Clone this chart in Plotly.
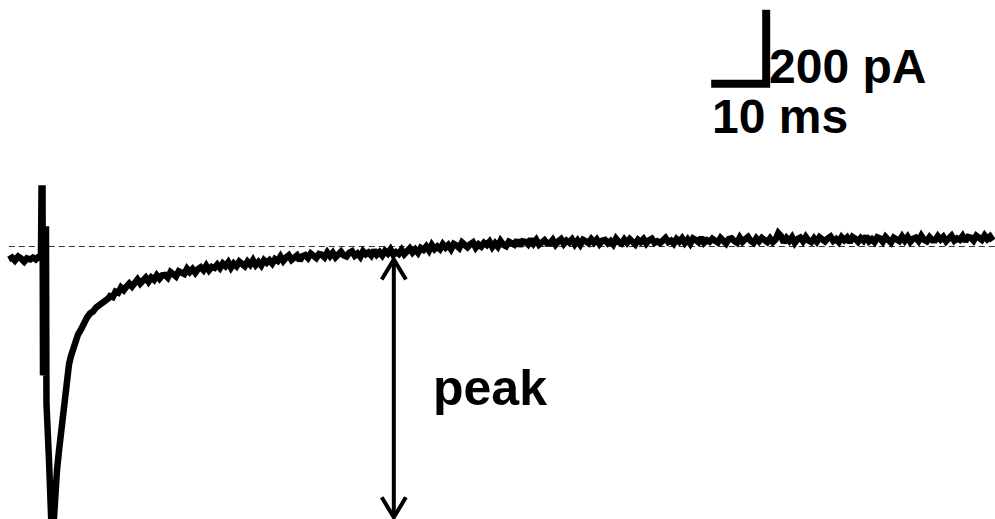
import numpy as np
import plotly.graph_objects as go

# --- Recorded synaptic current (pA) vs time (ms) ---------------------------
# Stimulus artifact and fast phase, irregularly sampled
stim_time_ms = [1.6, 2.2, 2.7, 3.3, 3.8, 4.4, 4.9, 5.5, 6.0, 6.5, 7.1, 7.45,
                7.55, 7.73, 7.82, 8.0, 8.09, 8.36, 8.45, 8.64, 8.91, 9.18,
                9.45, 9.73, 10.0, 10.36, 10.73, 11.09, 11.45, 11.82, 12.18,
                12.55, 12.91, 13.27, 13.64, 14.18, 14.73, 15.27, 15.82, 16.36,
                16.91, 17.45, 18.0, 18.55, 19.09, 19.64]
stim_current_pa = [-35, -30, -38, -27, -32, -41, -32, -35, -30, -35, -27, -22,
                   157, 157, -348, -335, 46, 46, -424, -470, -578, -686,
                   -794, -753, -672, -605, -551, -497, -456, -402, -345,
                   -318, -296, -277, -262, -238, -224, -204, -192, -181,
                   -176, -165, -160, -155, -147, -141]

# Slow tail, sampled every 0.5 ms from 20 ms
TAIL_START_MS = 20.0
TAIL_STEP_MS = 0.5
tail_current_pa = [
    -134, -137, -122, -125, -111, -118, -108, -100, -108, -96,
    -89, -100, -92, -84, -95, -84, -90, -78, -87, -78,
    -77, -84, -69, -77, -81, -67, -70, -74, -60, -69,
    -61, -71, -61, -56, -64, -52, -64, -55, -58, -49,
    -58, -46, -53, -43, -57, -46, -53, -41, -47, -53,
    -41, -49, -37, -50, -42, -51, -37, -44, -37, -46,
    -34, -39, -27, -39, -30, -24, -36, -32, -24, -38,
    -26, -23, -31, -19, -27, -31, -20, -22, -29, -16,
    -26, -17, -29, -20, -14, -24, -27, -17, -13, -25,
    -19, -28, -13, -21, -16, -24, -10, -22, -15, -24,
    -12, -19, -8, -22, -15, -20, -9, -21, -10, -5,
    -16, -8, -17, -4, -9, 0, -11, 4, -7, 0,
    -7, 6, -3, 4, -7, 7, 3, -4, 11, 1,
    -2, 6, 11, -3, 6, 0, 10, 4, 13, -1,
    9, 0, 15, 5, 1, 13, 10, 5, 17, 2,
    14, 13, 6, 20, 8, 18, 5, 13, 17, 8,
    9, 18, 5, 14, 20, 7, 16, 11, 19, 6,
    16, 5, 18, 14, 9, 20, 11, 19, 7, 16,
    18, 9, 15, 6, 21, 12, 8, 19, 10, 20,
    15, 6, 18, 12, 20, 8, 17, 21, 10, 14,
    9, 19, 23, 12, 16, 8, 20, 13, 22, 10,
    19, 8, 22, 18, 12, 24, 10, 17, 13, 21,
    18, 11, 23, 13, 8, 20, 22, 15, 10, 24,
    13, 20, 26, 15, 10, 22, 14, 23, 18, 12,
    22, 12, 19, 36, 28, 11, 23, 15, 25, 10,
    20, 24, 14, 26, 16, 12, 22, 13, 25, 19,
    14, 22, 27, 15, 20, 12, 25, 17, 24, 11,
    26, 21, 13, 23, 16, 28, 14, 20, 12, 25,
    22, 13, 26, 18, 11, 24, 21, 15, 27, 16,
    26, 13, 21, 24, 15, 29, 18, 14, 25, 17,
    17, 28, 19, 26, 14, 24, 29, 16, 22, 18,
    28, 14, 26, 24, 16, 29, 21, 18, 30, 20, 27, 16,
]

# Reference level, scale bar and peak marker
BASELINE_PA = 0
SCALE_BAR_MS = 10
SCALE_BAR_PA = 200
SCALE_X0_MS = 129.3
SCALE_Y0_PA = 440
PEAK_MARK_MS = 71.6
PEAK_TOP_PA = -35
PEAK_BOTTOM_PA = -732

X_RANGE = [0, 180.9]
Y_RANGE = [-736.6, 666.4]

tail_time_ms = TAIL_START_MS + np.arange(len(tail_current_pa)) * TAIL_STEP_MS
time_ms = np.concatenate([stim_time_ms, tail_time_ms])
current_pa = np.concatenate([stim_current_pa, tail_current_pa])

FONT = "Liberation Sans"

fig = go.Figure()

# Dashed reference line
fig.add_trace(go.Scatter(
    x=[stim_time_ms[0], X_RANGE[1]], y=[BASELINE_PA, BASELINE_PA],
    mode="lines", line=dict(color="#333333", width=1, dash="6px,4px"),
    hoverinfo="skip", showlegend=False,
))

# Current trace
fig.add_trace(go.Scatter(
    x=time_ms, y=current_pa, mode="lines",
    line=dict(color="black", width=6.5),
    showlegend=False,
))

shapes = []

# Scale bar (10 ms horizontal, 200 pA vertical)
sx0, sy0 = SCALE_X0_MS, SCALE_Y0_PA
sx1, sy1 = sx0 + SCALE_BAR_MS, sy0 + SCALE_BAR_PA
shapes.append(dict(
    type="path", xref="x", yref="y",
    path=f"M {sx0},{sy0} L {sx1},{sy0} L {sx1},{sy1}",
    line=dict(color="black", width=8),
))

# Double-headed arrow marking the peak amplitude
ax = PEAK_MARK_MS
head_dx = 2.2
head_dy = 54
shapes.append(dict(
    type="line", xref="x", yref="y",
    x0=ax, x1=ax, y0=PEAK_TOP_PA, y1=PEAK_BOTTOM_PA,
    line=dict(color="black", width=4),
))
shapes.append(dict(
    type="path", xref="x", yref="y",
    path=(f"M {ax - head_dx},{PEAK_TOP_PA - head_dy} L {ax},{PEAK_TOP_PA} "
          f"L {ax + head_dx},{PEAK_TOP_PA - head_dy}"),
    line=dict(color="black", width=4),
))
shapes.append(dict(
    type="path", xref="x", yref="y",
    path=(f"M {ax - head_dx},{PEAK_BOTTOM_PA + head_dy} L {ax},{PEAK_BOTTOM_PA} "
          f"L {ax + head_dx},{PEAK_BOTTOM_PA + head_dy}"),
    line=dict(color="black", width=4),
))

annotations = [
    dict(x=sx1 + 0.2, y=486, xref="x", yref="y", text=f"{SCALE_BAR_PA} pA",
         showarrow=False, xanchor="left", yanchor="middle",
         font=dict(family=FONT, size=48, color="black", weight="bold")),
    dict(x=sx0 - 0.3, y=352, xref="x", yref="y", text=f"{SCALE_BAR_MS} ms",
         showarrow=False, xanchor="left", yanchor="middle",
         font=dict(family=FONT, size=48, color="black", weight="bold")),
    dict(x=78.4, y=-382, xref="x", yref="y", text="peak",
         showarrow=False, xanchor="left", yanchor="middle",
         font=dict(family=FONT, size=50, color="black", weight="bold")),
]

fig.update_layout(
    width=995, height=519,
    margin=dict(l=0, r=0, t=0, b=0),
    paper_bgcolor="white", plot_bgcolor="white",
    xaxis=dict(range=X_RANGE, visible=False, fixedrange=True),
    yaxis=dict(range=Y_RANGE, visible=False, fixedrange=True),
    shapes=shapes, annotations=annotations,
    showlegend=False,
)

fig.write_html("out.html", config={"displayModeBar": False})
